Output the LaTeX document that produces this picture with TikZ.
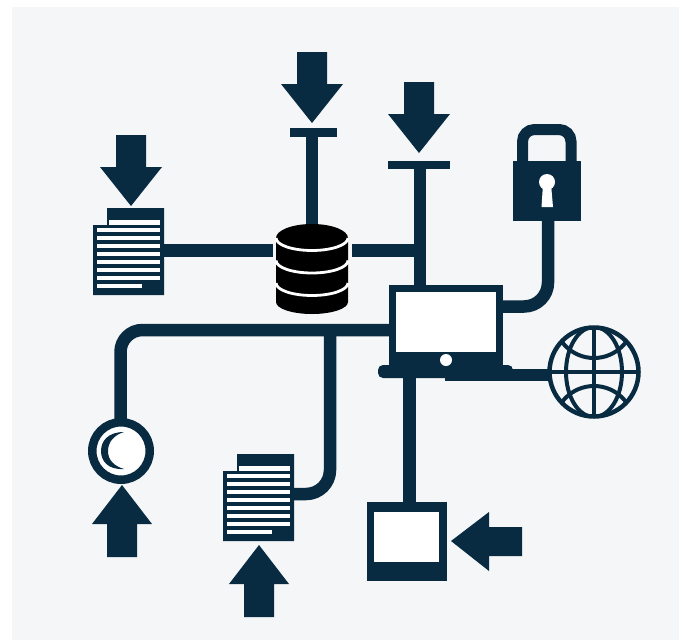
\documentclass[tikz,border=0pt]{standalone}
\definecolor{navy}{HTML}{082B42}
\definecolor{panel}{HTML}{F5F6F8}
\tikzset{
  wire/.style={line width=12.5pt,draw=navy},
  dbstripe/.style={draw=white,line width=2.8pt},
  globeline/.style={draw=navy,line width=4pt},
}
\newcommand{\docicon}[2]{%
  \begin{scope}[shift={(#1,#2)}]
    \fill[navy] (14,0) -- (71,0) -- (71,87) -- (0,87) -- (0,17) -- (14,17) -- cycle;
    \fill[white] (16,12) rectangle (67,17);
    \foreach \yy in {20,28,36,44,52,60,68} {\fill[white] (4,\yy) rectangle (67,\yy+4);}
    \fill[white] (4,76) rectangle (49,80);
  \end{scope}}
\newcommand{\arrowdown}[2]{%
  \fill[navy] (#1-15,#2) -- (#1+15,#2) -- (#1+15,#2+32) -- (#1+31,#2+32) -- (#1,#2+71) -- (#1-31,#2+32) -- (#1-15,#2+32) -- cycle;}
\newcommand{\arrowup}[2]{%
  \fill[navy] (#1-15,#2) -- (#1+15,#2) -- (#1+15,#2-33) -- (#1+30,#2-33) -- (#1,#2-72) -- (#1-30,#2-33) -- (#1-15,#2-33) -- cycle;}
\begin{document}
\begin{tikzpicture}[x=1pt,y=-1pt]
\useasboundingbox (0,0) rectangle (679,643);
\fill[white] (0,0) rectangle (679,643);
\fill[panel] (12,7) rectangle (679,640);
% wires
\coordinate (docA) at (160,250.5);
\coordinate (hub) at (312,250.5);
\coordinate (junction) at (420,250.5);
\draw[wire] (docA) -- (junction);
% database halo sits over the horizontal wire only
\fill[panel] (272.5,238) rectangle (351.5,302);
\draw[wire] (312,135) -- (hub);
\draw[wire] (420,165) -- (420,290);
\draw[wire,rounded corners=22pt] (395,330) -- (120.5,330) -- (120.5,425);
\draw[wire,rounded corners=24pt] (330,335) -- (330,494) -- (290,494);
\draw[wire] (409.5,375) -- (409.5,510);
\draw[wire,rounded corners=24pt] (498,306.5) -- (548,306.5) -- (548,210);
% T bars
\fill[navy] (290,128) rectangle (337,137);
\fill[navy] (388,161) rectangle (450,168.5);
% arrows
\arrowdown{131}{135}
\arrowdown{312}{52}
\arrowdown{419}{82}
\arrowup{122}{557}
\arrowup{259}{617}
\fill[navy] (522,527) -- (522,556) -- (489,556) -- (489,571) -- (451,541) -- (489,512) -- (489,527) -- cycle;
% documents
\docicon{93}{208}
\docicon{223}{454}
% database
\fill[black] (276,238) arc[start angle=180,end angle=360,x radius=36,y radius=14]
   -- (348,302) arc[start angle=0,end angle=180,x radius=36,y radius=12] -- cycle;
\foreach \yy in {238,260.5,283} {
  \draw[dbstripe] (276,\yy) arc[start angle=180,end angle=0,x radius=36,y radius=12.5];
}
% laptop
\fill[navy] (389,285) rectangle (503,367);
\fill[white] (396,292) rectangle (496,352);
\fill[navy,rounded corners=5pt] (378,365) rectangle (513,378);
\fill[navy] (445,369) rectangle (552,381);
\fill[white] (446,360) circle (6);
% globe
\draw[globeline,line width=4.5pt] (594,372) circle (44.5);
\begin{scope}
  \clip (594,372) circle (45);
  \draw[globeline] (594,372) ellipse [x radius=28,y radius=45];
  \draw[globeline] (594,327) -- (594,417);
  \draw[globeline] (549,372) -- (639,372);
  \draw[globeline] (594,318) circle (40);
  \draw[globeline] (594,426) circle (40);
\end{scope}
% lock
\fill[navy] (513,161) rectangle (581,221);
\draw[navy,line width=11pt,rounded corners=12pt] (522.5,165) -- (522.5,129.5) -- (571,129.5) -- (571,165);
\fill[white] (547,182) circle (8);
\fill[white] (543,184) -- (551,184) -- (553,207) -- (541.5,207) -- cycle;
% webcam
\draw[navy,line width=8.5pt,fill=white] (121,451) circle (28.75);
\fill[navy] (124,432) .. controls (108,432) and (101,441) .. (101,451)
   .. controls (101,461) and (108,470) .. (124,469)
   .. controls (114,466) and (108,460) .. (108,451)
   .. controls (108,442) and (114,435) .. (124,432) -- cycle;
% tablet
\fill[navy] (367,502) rectangle (447,581);
\fill[white] (374,512) rectangle (439,562);
\end{tikzpicture}
\end{document}
